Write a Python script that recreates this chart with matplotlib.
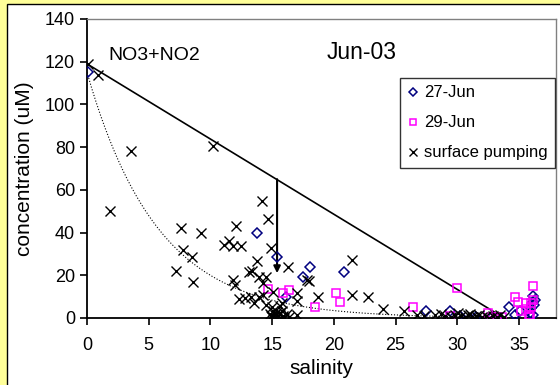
# Nitrate + nitrite versus salinity, with the mixing line and a trend curve.

import numpy as np
import matplotlib
matplotlib.use("Agg")
import matplotlib.pyplot as plt
from matplotlib.patches import Rectangle

plt.rcParams['font.family'] = ['Liberation Sans', 'DejaVu Sans']

# 27-Jun casts
JUN27_SAL = [0.1, 13.8, 15.4, 16.1, 17.5, 18.1, 20.8, 27.5, 29.4, 30.2, 31.5,
             32.8, 34.2, 34.7, 35.1, 35.9, 36.1, 36.1, 36.3, 36.1, 36.0, 36.2]
JUN27_NO3 = [115, 40, 28.5, 10, 19, 24, 21.5, 3.3, 3.5, 1, 0.5,
             0.3, 5, 1.2, 3.5, 2.2, 10.5, 7.5, 8.5, 1.2, 4.5, 6]

# 29-Jun casts
JUN29_SAL = [14.7, 15.9, 16.4, 18.5, 20.2, 20.5, 26.4, 30.0, 29.4, 32.5, 32.8,
             33.2, 33.6, 34.7, 34.9, 35.2, 35.6, 35.6, 35.8, 36.0, 36.1, 36.1,
             36.0, 35.9]
JUN29_NO3 = [13.5, 11.5, 13, 5, 11.5, 7.5, 5, 14, 1, 2.5, 0.5,
             0.5, 0.5, 10, 7.5, 3.5, 7, 4.2, 1.2, 7, 15, 8.5,
             5, 0.3]

# surface pumping
PUMP_SAL = [0.1, 0.9, 1.9, 3.6, 7.2, 7.6, 7.8, 8.5, 8.6, 9.2, 10.2,
            11.1, 11.5, 11.8, 12.5, 12.1, 11.8, 12.0, 12.3, 12.8, 13.3,
            13.5, 13.9, 14.3, 14.5, 13.1, 13.4, 13.8, 13.9, 14.5, 14.3,
            14.2, 14.7, 14.9, 15.1, 15.8, 16.3, 17.0, 17.0, 17.0, 17.8,
            18.0, 18.7, 21.5, 21.5, 22.8, 24.0, 25.7, 26.7, 28.2, 29.0,
            14.8, 15.0, 15.2, 15.3, 15.5, 15.6, 15.7, 15.9, 16.0, 16.2,
            15.1, 15.4, 16.4, 14.9, 15.8, 15.0, 15.6,
            29.5, 29.8, 30.0, 30.3, 30.6, 30.9, 31.2, 31.5, 31.8, 32.0,
            32.3, 32.6, 32.9, 33.2, 33.5, 33.8, 31.0, 30.1, 28.7, 27.3]
PUMP_NO3 = [119, 114, 50, 78, 22, 42, 32, 28.5, 17, 40, 80.5,
            34, 36, 33.5, 33.5, 43, 18, 15.5, 9, 9.5, 10,
            7, 10, 11, 6, 21.5, 22, 26.5, 19, 19, 16.5,
            55, 46.5, 33, 12, 7, 24, 11.5, 8, 1.5, 18,
            17.5, 10, 27, 11, 10, 4, 3.5, 1.5, 1.2, 1.0,
            2, 0.5, 1.5, 0, 0.8, 2.5, 0.2, 1, 0, 1.8,
            3.5, 3, 0.5, 0.8, 3.2, 5, 5.5,
            0.5, 1.5, 0.2, 1, 0.5, 1.2, 0.3, 0.8, 1.5, 0.4,
            1, 0.2, 0.8, 0.3, 1.2, 0.5, 2, 2.2, 2, 0.8]

# conservative mixing line (river end member -> ocean end member)
MIX_SAL = [0, 33.8]
MIX_NO3 = [119, 0]

# drawdown arrow
ARROW_SAL = 15.4
ARROW_FROM = 65
ARROW_TO = 21

# exponential trend curve y = A * exp(-k * S)
TREND_A = 115
TREND_K = 0.175


def plot():
    """Draws the salinity plot and saves it"""
    fig = plt.figure(figsize=(5.6, 3.85), dpi=100, facecolor='#FFFF99')
    fig.add_artist(Rectangle((7 / 560, -0.1), 1.1, 1 + 0.1 - 4 / 385,
                             transform=fig.transFigure, facecolor='white',
                             edgecolor='black', linewidth=1.0, zorder=-5))
    ax = fig.add_axes([87 / 560, 67 / 385, 469 / 560, 299 / 385])

    xs = np.linspace(0, 36.3, 300)
    ax.plot(xs, TREND_A * np.exp(-TREND_K * xs), color='black', linestyle=':',
            linewidth=0.8, zorder=2)
    ax.plot(MIX_SAL, MIX_NO3, color='black', linewidth=1.2, zorder=2)
    ax.annotate('', xy=(ARROW_SAL, ARROW_TO), xytext=(ARROW_SAL, ARROW_FROM),
                arrowprops=dict(arrowstyle='-|>', color='black', lw=1.5,
                                mutation_scale=10, shrinkA=0, shrinkB=0),
                zorder=3)

    ax.plot(JUN27_SAL, JUN27_NO3, 'D', mfc='none', mec='#000080', ms=5,
            mew=1.1, label='27-Jun', zorder=4)
    ax.plot(JUN29_SAL, JUN29_NO3, 's', mfc='none', mec='#FF00FF', ms=6,
            mew=1.1, label='29-Jun', zorder=4)
    ax.plot(PUMP_SAL, PUMP_NO3, 'x', color='black', ms=7, mew=1.0,
            label='surface pumping', zorder=5)

    ax.text(1.7, 123, 'NO3+NO2', fontsize=14, va='center', ha='left')
    ax.text(19.4, 124.5, 'Jun-03', fontsize=16.5, va='center', ha='left')

    ax.set_xlim(0, 38)
    ax.set_ylim(0, 140)
    ax.set_xticks(np.arange(0, 36, 5))
    ax.set_yticks(np.arange(0, 141, 20))
    ax.tick_params(labelsize=13, length=5, width=1.2, direction='out')
    ax.tick_params(axis='x', pad=9)
    ax.set_xlabel('salinity', fontsize=15, labelpad=3)
    ax.set_ylabel('concentration (uM)', fontsize=15, labelpad=8)
    for side in ['left', 'bottom']:
        ax.spines[side].set_linewidth(1.3)
    for side in ['top', 'right']:
        ax.spines[side].set_color('#808080')
        ax.spines[side].set_linewidth(1.0)

    leg = ax.legend(loc='upper left', bbox_to_anchor=(313 / 469, 240 / 299),
                    fontsize=12, frameon=True, fancybox=False,
                    edgecolor='black', handlelength=0.6, handletextpad=0.4,
                    borderpad=0.45, labelspacing=0.9, borderaxespad=0,
                    markerscale=0.8)
    leg.get_frame().set_linewidth(1.0)

    fig.savefig('out.png', dpi=100, facecolor=fig.get_facecolor())


def main():
    """The Main Function"""
    plot()


main()
